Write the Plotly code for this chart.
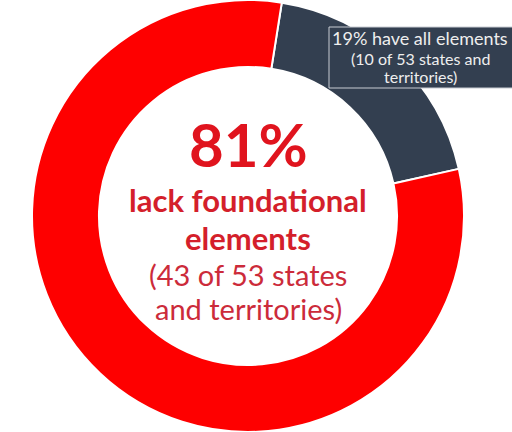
import plotly.graph_objects as go

# Data
labels = ["Have all elements", "Lack foundational elements"]
values = [19, 81]
counts = [10, 43]
total = 53
colors = ["#333F50", "#FE0000"]

W, H = 512, 432

fig = go.Figure()
fig.add_trace(go.Pie(
    labels=labels,
    values=values,
    hole=0.69,
    sort=False,
    direction="clockwise",
    rotation=9,
    textinfo="none",
    hoverinfo="label+percent",
    marker=dict(colors=colors, line=dict(color="white", width=2)),
    domain=dict(x=[0, 496 / W], y=[0, 1]),
    showlegend=False,
))

def py(pix):
    return 1 - pix / H

def px(pix):
    return pix / W

FONT = "Lato"
annotations = []
cx = px(248)
center_lines = [
    (f"<b>{values[1]}%</b>", 60, "#E0141E", 144),
    ("<b>lack foundational</b>", 31, "#D41F2B", 200),
    ("<b>elements</b>", 31, "#D41F2B", 237.5),
    (f"({counts[1]} of {total} states", 29, "#CC2B3A", 274),
    ("and territories)", 29, "#CC2B3A", 308.5),
]
for txt, size, col, y in center_lines:
    annotations.append(dict(text=txt, x=cx, y=py(y), xref="paper", yref="paper",
                            xanchor="center", yanchor="middle", showarrow=False,
                            font=dict(family=FONT, size=size, color=col)))

bx = px(420)
box_lines = [
    (f"{values[0]}% have all elements", 18, 38),
    (f"({counts[0]} of {total} states and", 16, 58),
    ("territories)", 16, 77),
]
for txt, size, y in box_lines:
    annotations.append(dict(text=txt, x=bx, y=py(y), xref="paper", yref="paper",
                            xanchor="center", yanchor="middle", showarrow=False,
                            font=dict(family=FONT, size=size, color="#EEEEEE")))

fig.update_layout(
    width=W, height=H,
    margin=dict(l=0, r=0, t=0, b=0),
    paper_bgcolor="white",
    plot_bgcolor="white",
    annotations=annotations,
    shapes=[dict(type="rect", xref="paper", yref="paper",
                 x0=px(329), x1=px(513), y0=py(88), y1=py(27),
                 fillcolor="#333F50", line=dict(color="#C8CCD2", width=1),
                 layer="above")],
)

fig.write_html("out.html")
